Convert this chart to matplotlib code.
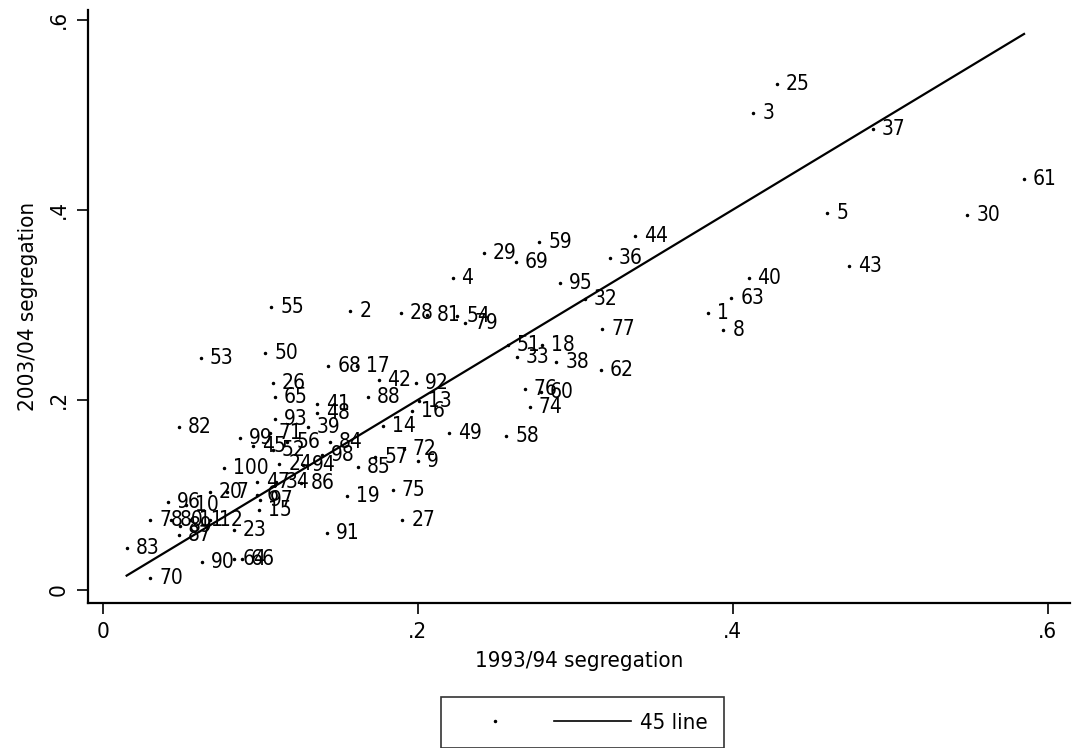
import matplotlib
matplotlib.use('Agg')
import matplotlib.pyplot as plt
from matplotlib.lines import Line2D

plt.rcParams['font.family'] = ['DejaVu Sans']
plt.rcParams['font.stretch'] = 'condensed'

# school district id, segregation index 1993/94 and 2003/04
labels = ['25', '3', '37', '61', '5', '30', '43', '40', '63', '1', '8', '44', '36',
          '59', '29', '69', '4', '95', '32', '55', '2', '28', '81', '54', '79', '77',
          '53', '50', '68', '17', '26', '65', '42', '92', '88', '13', '16', '41', '48',
          '14', '49', '58', '51', '33', '18', '38', '62', '76', '60', '74', '72', '9',
          '57', '85', '75', '19', '27', '91', '84', '98', '39', '56', '93', '99', '71',
          '45', '52', '24', '94', '86', '100', '34', '47', '20', '7', '97', '15', '23',
          '11', '12', '78', '80', '87', '89', '96', '10', '83', '70', '90', '64', '66',
          '82', '6']
seg9394 = [0.428, 0.413, 0.489, 0.585, 0.460, 0.549, 0.474, 0.410, 0.399, 0.384, 0.394,
           0.338, 0.322, 0.277, 0.242, 0.262, 0.222, 0.290, 0.306, 0.107, 0.157, 0.189,
           0.206, 0.225, 0.230, 0.317, 0.062, 0.103, 0.143, 0.161, 0.108, 0.109, 0.175,
           0.199, 0.168, 0.201, 0.196, 0.136, 0.136, 0.178, 0.220, 0.256, 0.257, 0.263,
           0.279, 0.288, 0.316, 0.268, 0.278, 0.271, 0.191, 0.200, 0.173, 0.162, 0.184,
           0.155, 0.190, 0.142, 0.144, 0.139, 0.130, 0.117, 0.109, 0.087, 0.106, 0.095,
           0.108, 0.112, 0.127, 0.126, 0.077, 0.110, 0.098, 0.068, 0.079, 0.100, 0.099,
           0.083, 0.055, 0.068, 0.030, 0.043, 0.048, 0.049, 0.041, 0.053, 0.015, 0.030,
           0.063, 0.083, 0.088, 0.048, 0.098]
seg0304 = [0.532, 0.502, 0.485, 0.432, 0.397, 0.395, 0.341, 0.328, 0.307, 0.291, 0.273,
           0.372, 0.349, 0.366, 0.355, 0.345, 0.328, 0.323, 0.306, 0.298, 0.293, 0.291,
           0.289, 0.288, 0.281, 0.274, 0.244, 0.249, 0.236, 0.236, 0.218, 0.203, 0.221,
           0.218, 0.203, 0.199, 0.188, 0.196, 0.186, 0.172, 0.165, 0.162, 0.258, 0.245,
           0.258, 0.240, 0.231, 0.211, 0.208, 0.192, 0.148, 0.136, 0.140, 0.129, 0.105,
           0.099, 0.074, 0.060, 0.156, 0.142, 0.171, 0.156, 0.180, 0.160, 0.165, 0.151,
           0.147, 0.132, 0.131, 0.112, 0.128, 0.114, 0.114, 0.103, 0.103, 0.095, 0.084,
           0.063, 0.074, 0.074, 0.074, 0.074, 0.058, 0.067, 0.092, 0.089, 0.044, 0.013,
           0.029, 0.032, 0.032, 0.171, 0.100]

fig = plt.figure(figsize=(10.74, 7.48), dpi=100)
ax = fig.add_axes([0.082, 0.194, 0.914, 0.793])

ax.plot(seg9394, seg0304, 'o', color='black', ms=1.5, ls='none')
for lab, x, y in zip(labels, seg9394, seg0304):
    ax.annotate(lab, (x, y), xytext=(9, 0), textcoords='offset pixels',
                ha='left', va='center', fontsize=15, color='black')

# 45 degree line
lo, hi = min(seg9394), max(seg9394)
ax.plot([lo, hi], [lo, hi], color='black', lw=1.6)

ax.set_xlim(-0.0095, 0.614)
ax.set_ylim(-0.0137, 0.6105)
ticks = [0, 0.2, 0.4, 0.6]
ticklabels = ['0', '.2', '.4', '.6']
ax.set_xticks(ticks)
ax.set_xticklabels(ticklabels, fontsize=16)
ax.set_yticks(ticks)
ax.set_yticklabels(ticklabels, fontsize=16, rotation=90, va='center')
ax.tick_params(direction='out', length=8, width=1.2, color='black', pad=6)
for side in ['top', 'right']:
    ax.spines[side].set_visible(False)
for side in ['left', 'bottom']:
    ax.spines[side].set_linewidth(1.6)
ax.set_xlabel('1993/94 segregation', fontsize=16, labelpad=6)
ax.set_ylabel('2003/04 segregation', fontsize=16, labelpad=8)

handles = [Line2D([], [], marker='o', ms=1.5, color='black', ls='none'),
           Line2D([], [], color='black', lw=1.2)]
leg = fig.legend(handles, [' ', '45 line'], loc='upper center',
                 bbox_to_anchor=(0.542, 0.083), ncol=2, fontsize=16,
                 frameon=True, fancybox=False, edgecolor='black',
                 handlelength=3.5, handletextpad=0.4, columnspacing=0.2,
                 borderpad=0.7)
leg.get_frame().set_linewidth(1.2)

plt.savefig('out.png', dpi=100)
